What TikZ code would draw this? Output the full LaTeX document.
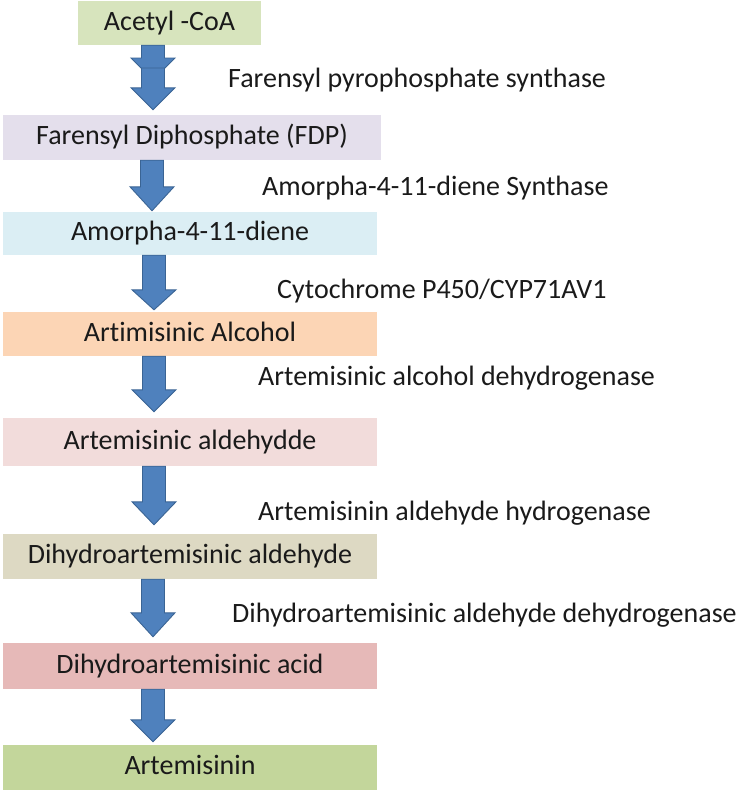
\documentclass[tikz,border=0pt]{standalone}
\usepackage{fontspec}
\setmainfont[Ligatures={NoCommon}]{Carlito}
\usetikzlibrary{calc}
\definecolor{cA}{HTML}{D7E4BD}
\definecolor{cB}{HTML}{E4DFEC}
\definecolor{cC}{HTML}{DBEEF4}
\definecolor{cD}{HTML}{FCD5B5}
\definecolor{cE}{HTML}{F2DCDB}
\definecolor{cF}{HTML}{DDD9C3}
\definecolor{cG}{HTML}{E6B9B8}
\definecolor{cH}{HTML}{C3D69B}
\definecolor{arrfill}{HTML}{4F81BD}
\definecolor{arrline}{HTML}{3A6494}
\definecolor{txt}{HTML}{1A1A1A}
\tikzset{
  box/.style={rectangle, inner sep=0pt, text height=20pt, text depth=6pt,
    font=\fontsize{28}{33}\selectfont, text=txt},
  enz/.style={anchor=base west, inner sep=0pt, font=\fontsize{28}{33}\selectfont, text=txt},
  barrowstyle/.style={fill=arrfill, draw=arrline, line width=0.9pt, line join=miter},
}
% #1 start point, #2 end point, #3 head length, #4 gap above end, #5 x centre
\newcommand\blockarrow[5]{%
  \path[barrowstyle] let \p1=#1, \p2=#2 in
    ({#5pt-11.5pt},\y1) -- ({#5pt+11.5pt},\y1) -- ({#5pt+11.5pt},{\y2+#4pt+#3pt})
    -- ({#5pt+22pt},{\y2+#4pt+#3pt}) -- ({#5pt},{\y2+#4pt})
    -- ({#5pt-22pt},{\y2+#4pt+#3pt}) -- ({#5pt-11.5pt},{\y2+#4pt+#3pt}) -- cycle;}
\begin{document}
\begin{tikzpicture}[x=1pt,y=-1pt]
\useasboundingbox (0,0) rectangle (742,793);
% boxes
\node[box, fill=cA, minimum width=183pt, minimum height=44pt] (acetyl) at (169.5,23) {Acetyl -CoA};
\node[box, fill=cB, minimum width=378pt, minimum height=45pt] (fdp) at (192,137.5) {Farensyl Diphosphate (FDP)};
\node[box, fill=cC, minimum width=374pt, minimum height=43pt] (amor) at (190,233.5) {Amorpha-4-11-diene};
\node[box, fill=cD, minimum width=374pt, minimum height=44pt] (alc) at (190,334) {Artimisinic Alcohol};
\node[box, fill=cE, minimum width=374pt, minimum height=48pt] (ald) at (190,442) {Artemisinic aldehydde};
\node[box, fill=cF, minimum width=374pt, minimum height=45pt] (dald) at (190,556.5) {Dihydroartemisinic aldehyde};
\node[box, fill=cG, minimum width=374pt, minimum height=46pt] (dacid) at (190,666) {Dihydroartemisinic acid};
\node[box, fill=cH, minimum width=374pt, minimum height=45pt] (art) at (190,767.5) {Artemisinin};
% enzyme labels
\node[enz] (e1) at (228,87) {Farensyl pyrophosphate synthase};
\node[enz] (e2) at (262,195) {Amorpha-4-11-diene Synthase};
\node[enz] (e3) at (277,298) {Cytochrome P450/CYP71AV1};
\node[enz] (e4) at (258,385) {Artemisinic alcohol dehydrogenase};
\node[enz] (e5) at (258,520) {Artemisinin aldehyde hydrogenase};
\node[enz] (e6) at (232,622) {Dihydroartemisinic aldehyde dehydrogenase};
% block arrows
\coordinate (m1) at (153,80);
\coordinate (m2) at (153,68);
\blockarrow{(acetyl.south)}{(m1)}{22}{0}{153}
\blockarrow{(m2)}{(fdp.north)}{22}{5}{153}
\blockarrow{(fdp.south)}{(amor.north)}{24}{1}{152}
\blockarrow{(amor.south)}{(alc.north)}{20}{2}{154}
\blockarrow{(alc.south)}{(ald.north)}{22}{6}{154}
\blockarrow{(ald.south)}{(dald.north)}{23}{9}{154}
\blockarrow{(dald.south)}{(dacid.north)}{24}{6}{153}
\blockarrow{(dacid.south)}{(art.north)}{22}{3}{153}
\end{tikzpicture}
\end{document}
